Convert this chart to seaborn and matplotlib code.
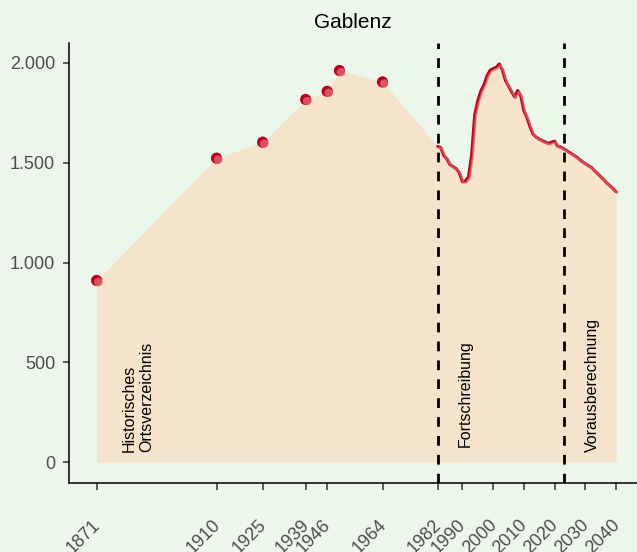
import numpy as np
import pandas as pd
import matplotlib
matplotlib.use('Agg')
import matplotlib.pyplot as plt
import matplotlib.transforms as mtransforms
import seaborn as sns

# Historisches Ortsverzeichnis (Einzelwerte)
hist_years = [1871, 1910, 1925, 1939, 1946, 1950, 1964]
hist_pop = [910, 1523, 1603, 1817, 1858, 1962, 1905]

# Fortschreibung + Vorausberechnung (jaehrlich)
line_years = list(range(1982, 2041))
line_pop = [1582, 1575, 1535, 1518, 1490, 1480, 1470, 1450, 1405, 1408,
            1430, 1540, 1740, 1810, 1860, 1890, 1935, 1963, 1972, 1978,
            1995, 1965, 1912, 1885, 1855, 1830, 1862, 1835, 1760, 1727,
            1680, 1643, 1628, 1618, 1610, 1603, 1597, 1603, 1608, 1583,
            1578, 1570, 1560, 1550, 1540, 1530, 1518, 1505, 1495, 1485,
            1476, 1460, 1445, 1430, 1415, 1398, 1385, 1370, 1355]

tick_years = [1871, 1910, 1925, 1939, 1946, 1964, 1982, 1990, 2000, 2010, 2020, 2030, 2040]
y_ticks = [0, 500, 1000, 1500, 2000]
y_labels = ['0', '500', '1.000', '1.500', '2.000']
breaks = [1982, 2023]

bg = '#EDF6EB'
area_col = '#F6E3CC'
red = '#B8001F'
red_light = '#E06A6E'

sns.set_theme(style='ticks')
plt.rcParams['font.family'] = ['Liberation Sans', 'DejaVu Sans']

df_hist = pd.DataFrame({'jahr': hist_years, 'einwohner': hist_pop})
df_line = pd.DataFrame({'jahr': line_years, 'einwohner': line_pop})
df_all = pd.concat([df_hist, df_line], ignore_index=True)

fig = plt.figure(figsize=(6.37, 5.52), dpi=100, facecolor=bg)
ax = fig.add_axes([0.1083, 0.125, 0.8917, 0.7971])
ax.set_facecolor(bg)

# Flaeche unter allen Werten
ax.fill_between(df_all['jahr'], 0, df_all['einwohner'], color=area_col, lw=0, zorder=1)

# Strukturbrueche
for b in breaks:
    ax.axvline(b, color='black', lw=2, dashes=(3.5, 3.3), zorder=2)

# leichte Schatten-Ebene (nach rechts unten versetzt)
shift = mtransforms.offset_copy(ax.transData, fig=fig, x=1.2, y=-1.2, units='dots')

sns.lineplot(data=df_line, x='jahr', y='einwohner', ax=ax, color=red, lw=2.2, zorder=3)
ax.plot(df_line['jahr'], df_line['einwohner'], color=red_light, lw=1.6, alpha=0.7,
        transform=shift, zorder=4)

sns.scatterplot(data=df_hist, x='jahr', y='einwohner', ax=ax, color=red, s=65,
                edgecolor='none', zorder=5)
ax.scatter(df_hist['jahr'], df_hist['einwohner'], color=red_light, s=38, alpha=0.8,
           edgecolor='none', transform=mtransforms.offset_copy(ax.transData, fig=fig, x=1.6, y=-1.6, units='dots'),
           zorder=6)

# Beschriftungen der Abschnitte
ax.text(1884.5, 50, 'Historisches\nOrtsverzeichnis', rotation=90, ha='center', va='bottom',
        multialignment='left', fontsize=11.5, color='black', zorder=7)
ax.text(1991, 75, 'Fortschreibung', rotation=90, ha='center', va='bottom',
        fontsize=11.5, color='black', zorder=7)
ax.text(2032.2, 50, 'Vorausberechnung', rotation=90, ha='center', va='bottom',
        fontsize=11.5, color='black', zorder=7)

ax.set_xlim(1862, 2046.8)
ax.set_ylim(-105, 2100)
ax.set_xticks(tick_years)
ax.set_xticklabels([str(t) for t in tick_years], rotation=45, ha='right', va='top',
                   rotation_mode='anchor')
ax.set_yticks(y_ticks)
ax.set_yticklabels(y_labels)
ax.tick_params(axis='y', length=4.5, width=1.1, color='#333333', labelsize=13,
               labelcolor='#4D4D4D', pad=5.5)
ax.tick_params(axis='x', length=5, width=1.1, color='#333333', labelsize=13,
               labelcolor='#4D4D4D', pad=19)

# Jahreszahlen etwas nach links ruecken
nudge = mtransforms.ScaledTranslation(-5 / 100, 0, fig.dpi_scale_trans)
for lab in ax.get_xticklabels():
    lab.set_transform(lab.get_transform() + nudge)

ax.set_xlabel('')
ax.set_ylabel('')
ax.set_title('Gablenz', fontsize=15, color='black', pad=11)

sns.despine(ax=ax)
for s in ['left', 'bottom']:
    ax.spines[s].set_color('black')
    ax.spines[s].set_linewidth(1.1)

fig.savefig('out.png', dpi=100, facecolor=bg)
